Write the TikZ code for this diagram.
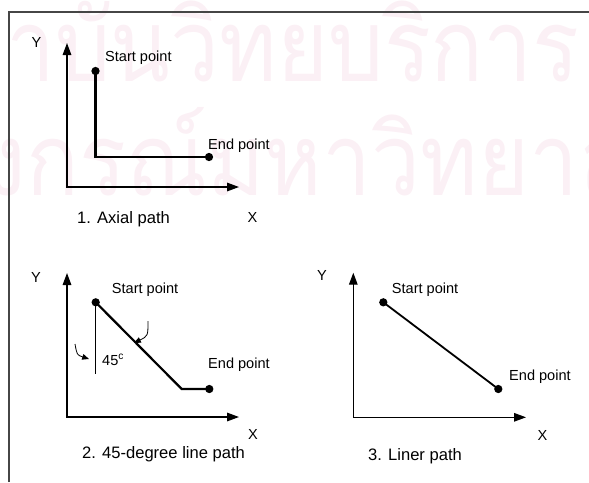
\documentclass[tikz,border=0pt]{standalone}
\usepackage{fontspec}
\setmainfont{Liberation Sans}
\newfontfamily\thaifont[Script=Thai]{Loma}
\usepackage{tikz}
\usetikzlibrary{arrows.meta}
\definecolor{wmark}{RGB}{251,240,245}
\definecolor{framegray}{RGB}{70,70,70}

\begin{document}
\begin{tikzpicture}[
    x=0.35mm, y=-0.35mm,
    font=\fontsize{14.5}{17}\selectfont,
    axis/.style={<->, >={Triangle[length=4.2mm, width=3mm]}, line width=1.2pt},
    pth/.style={line width=2.2pt},
    guide/.style={line width=1.1pt},
    dot/.style={circle, fill, inner sep=0pt, minimum size=2.9mm},
    lbl/.style={inner sep=0pt, anchor=base west},
    axlbl/.style={inner sep=0pt},
    caption/.style={inner sep=0pt, anchor=base west, font=\fontsize{16.5}{19}\selectfont},
    turn/.style={-{Triangle[length=2.4mm, width=2mm]}, line width=0.8pt},
    wm/.style={text=wmark, inner sep=0pt, font=\thaifont\fontsize{100}{100}\selectfont}
]
\useasboundingbox (0,0) rectangle (589,482);
\clip (0,0) rectangle (589,482);

% watermark behind everything
\node[wm, anchor=base east] (wm1) at (580,81) {\scalebox{0.87}[1]{สถาบันวิทยบริการ}};
\node[wm, anchor=base west] (wm2) at (-230,195) {\scalebox{0.87}[1]{จุฬาลงกรณ์มหาวิทยาลัย}};

% frame
\draw[framegray, line width=1.4pt] (9,482) -- (9,12) -- (589,12);

% 1. Axial path
\coordinate (y1) at (67,43);
\coordinate (o1) at (67,187);
\coordinate (x1) at (239,187);
\draw[axis] (y1) -- (o1) -- (x1);
\node[dot] (s1) at (95.5,71) {};
\node[dot] (e1) at (209,157) {};
\draw[pth] (s1.center) |- (e1.center);
\node[lbl] (s1l) at (105,61) {Start point};
\node[lbl] (e1l) at (208,149) {End point};
\node[axlbl] (y1l) at (36.5,42) {Y};
\node[axlbl] (x1l) at (252.5,217) {X};
\node[caption] (c1) at (77,223) {1. Axial path};

% 2. 45-degree line path
\coordinate (y2) at (67,273);
\coordinate (o2) at (67,417);
\coordinate (x2) at (239,417);
\draw[axis] (y2) -- (o2) -- (x2);
\node[dot] (s2) at (95.7,302.3) {};
\coordinate (k2) at (181.7,389);
\node[dot] (e2) at (209.3,389) {};
\draw[pth] (s2.center) -- (k2) -- (e2.center);
\coordinate (g2) at (95.7,374);
\draw[guide] (s2.center) -- (g2);
\coordinate (t1) at (75,344);
\coordinate (t1e) at (89,359);
\draw[turn] (t1) .. controls (77,355) .. (t1e);
\coordinate (t2) at (148,321);
\coordinate (t2e) at (134,343);
\draw[turn] (t2) .. controls (148,336) .. (t2e);
\node[lbl] (s2l) at (111.7,293) {Start point};
\node[lbl] (e2l) at (208,368) {End point};
\node[lbl] (ang) at (102,365) {45\textsuperscript{c}};
\node[axlbl] (y2l) at (36,277) {Y};
\node[axlbl] (x2l) at (253,434) {X};
\node[caption] (c2) at (82,458) {2. 45-degree line path};

% 3. Liner path
\coordinate (y3) at (353.3,272.7);
\coordinate (o3) at (353.3,417.3);
\coordinate (x3) at (526,417.3);
\draw[axis] (y3) -- (o3) -- (x3);
\node[dot] (s3) at (383.3,302.3) {};
\node[dot] (e3) at (498.3,389) {};
\draw[pth, line width=1.8pt] (s3.center) -- (e3.center);
\node[lbl] (s3l) at (391.7,293) {Start point};
\node[lbl] (e3l) at (509,380) {End point};
\node[axlbl] (y3l) at (322,275) {Y};
\node[axlbl] (x3l) at (542.5,435) {X};
\node[caption] (c3) at (368,460) {3. Liner path};

\end{tikzpicture}
\end{document}
